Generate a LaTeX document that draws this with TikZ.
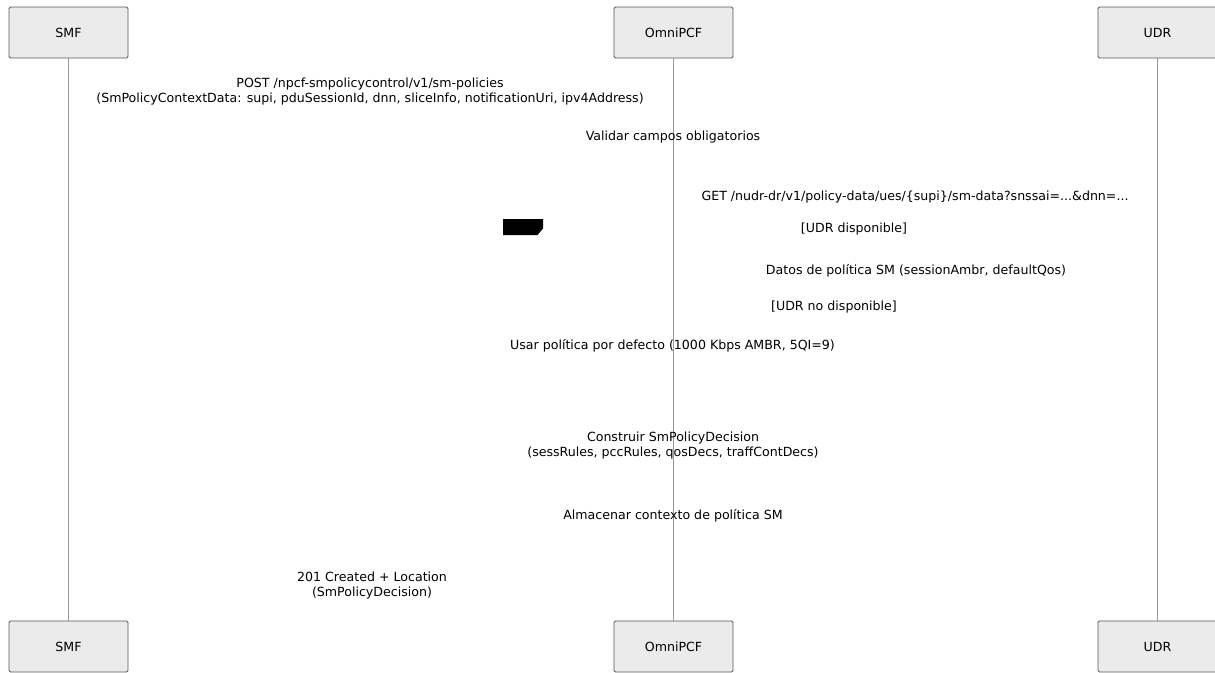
\documentclass[tikz,border=0pt]{standalone}
\usepackage{fontspec}
\setmainfont{DejaVu Sans}
\tikzset{
    actor/.style={draw=black!65, line width=0.8pt, fill=black!8, rounded corners=1.5pt, minimum width=119pt, minimum height=51pt, inner sep=0pt, font=\fontsize{12.6}{15}\selectfont},
    msg/.style={align=center, inner sep=0pt, font=\fontsize{12.6}{15}\selectfont},
    life/.style={draw=black!40, line width=0.8pt}
}
\newcommand{\Actor}[3]{
    \node[actor] (#1top) at (#2,-32.5) {#3};
    \node[actor] (#1bot) at (#2,-646.5) {#3};
    \draw[life] (#1top.south) -- (#1bot.north);
}

\begin{document}
\begin{tikzpicture}[x=1pt,y=1pt]
        \useasboundingbox (0,0) rectangle (1215,-672);
        \Actor{smf}{68.5}{SMF}
        \Actor{pcf}{673.5}{OmniPCF}
        \Actor{udr}{1157.5}{UDR}
        \fill[black] (503,-219) -- (543,-219) -- (543,-228.5) -- (537.5,-235) -- (503,-235) -- cycle;
        \node[msg] (post) at (370,-91.5) {POST /npcf-smpolicycontrol/v1/sm-policies\\(SmPolicyContextData: supi, pduSessionId, dnn, sliceInfo, notificationUri, ipv4Address)};
        \node[msg] (validar) at (673,-137) {Validar campos obligatorios};
        \node[msg] (get) at (915,-197) {GET /nudr-dr/v1/policy-data/ues/\{supi\}/sm-data?snssai=...\&dnn=...};
        \node[msg] (disp) at (854,-229) {[UDR disponible]};
        \node[msg] (datos) at (916,-271) {Datos de política SM (sessionAmbr, defaultQos)};
        \node[msg] (nodisp) at (834,-307) {[UDR no disponible]};
        \node[msg] (defecto) at (672.5,-346) {Usar política por defecto (1000 Kbps AMBR, 5QI=9)};
        \node[msg] (construir) at (673,-445.5) {Construir SmPolicyDecision\\(sessRules, pccRules, qosDecs, traffContDecs)};
        \node[msg] (almacenar) at (673,-516) {Almacenar contexto de política SM};
        \node[msg] (created) at (372,-585.5) {201 Created + Location\\(SmPolicyDecision)};
    \end{tikzpicture}
\end{document}
